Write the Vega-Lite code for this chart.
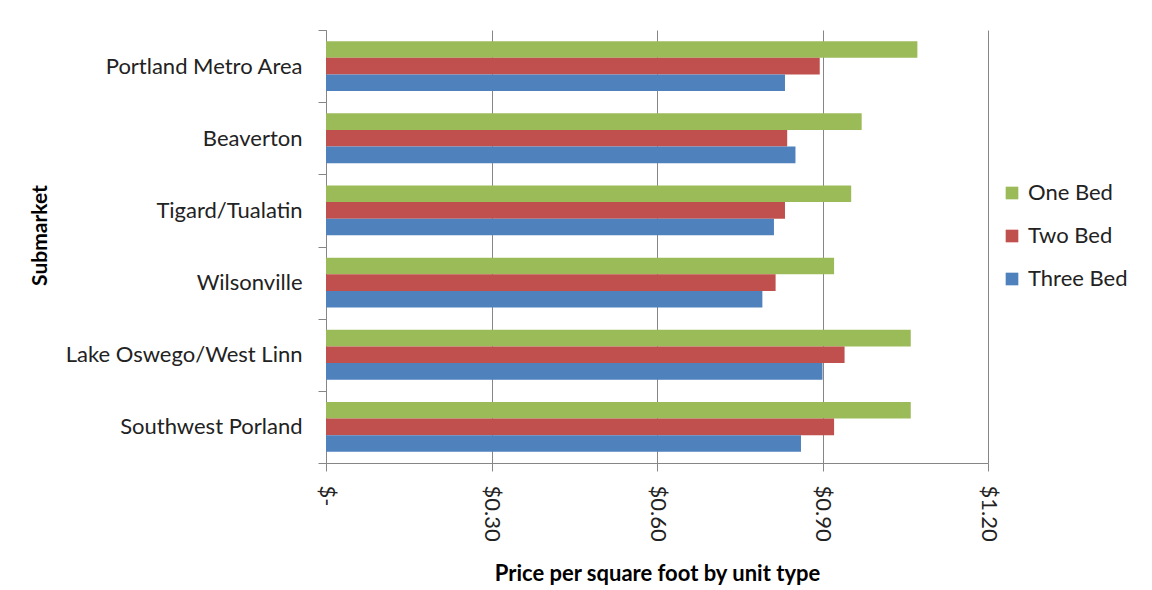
{
  "$schema": "https://vega.github.io/schema/vega-lite/v6.json",
  "width": 662,
  "height": 433,
  "autosize": {"type": "none"},
  "padding": {"left": 326, "top": 30, "right": 164, "bottom": 127},
  "background": "white",
  "config": {
    "font": "Lato",
    "view": {"stroke": null}
  },
  "data": {
    "values": [
      {"submarket": "Portland Metro Area", "type": "One Bed", "price": 1.072},
      {"submarket": "Portland Metro Area", "type": "Two Bed", "price": 0.895},
      {"submarket": "Portland Metro Area", "type": "Three Bed", "price": 0.832},
      {"submarket": "Beaverton", "type": "One Bed", "price": 0.971},
      {"submarket": "Beaverton", "type": "Two Bed", "price": 0.836},
      {"submarket": "Beaverton", "type": "Three Bed", "price": 0.851},
      {"submarket": "Tigard/Tualatin", "type": "One Bed", "price": 0.952},
      {"submarket": "Tigard/Tualatin", "type": "Two Bed", "price": 0.832},
      {"submarket": "Tigard/Tualatin", "type": "Three Bed", "price": 0.812},
      {"submarket": "Wilsonville", "type": "One Bed", "price": 0.921},
      {"submarket": "Wilsonville", "type": "Two Bed", "price": 0.815},
      {"submarket": "Wilsonville", "type": "Three Bed", "price": 0.791},
      {"submarket": "Lake Oswego/West Linn", "type": "One Bed", "price": 1.060},
      {"submarket": "Lake Oswego/West Linn", "type": "Two Bed", "price": 0.940},
      {"submarket": "Lake Oswego/West Linn", "type": "Three Bed", "price": 0.900},
      {"submarket": "Southwest Porland", "type": "One Bed", "price": 1.060},
      {"submarket": "Southwest Porland", "type": "Two Bed", "price": 0.921},
      {"submarket": "Southwest Porland", "type": "Three Bed", "price": 0.861}
    ]
  },
  "mark": {"type": "bar"},
  "encoding": {
    "y": {
      "field": "submarket",
      "type": "nominal",
      "sort": ["Portland Metro Area", "Beaverton", "Tigard/Tualatin", "Wilsonville", "Lake Oswego/West Linn", "Southwest Porland"],
      "scale": {"paddingInner": 0, "paddingOuter": 0},
      "axis": {
        "title": "Submarket",
        "titleFontSize": 21,
        "titleFontWeight": "bold",
        "titleColor": "black",
        "titleX": -286,
        "titleY": 205,
        "titleAngle": -90,
        "titleBaseline": "middle",
        "titleAlign": "center",
        "labelFontSize": 22,
        "labelLimit": 0,
        "labelColor": "#222222",
        "labelPadding": 16,
        "tickBand": "extent",
        "tickSize": 8,
        "tickColor": "#868686",
        "domainColor": "#868686",
        "grid": false
      }
    },
    "yOffset": {
      "field": "type",
      "type": "nominal",
      "sort": ["One Bed", "Two Bed", "Three Bed"],
      "scale": {"paddingInner": 0, "paddingOuter": 0.67}
    },
    "x": {
      "field": "price",
      "type": "quantitative",
      "scale": {"domain": [0, 1.2], "nice": false, "zero": true},
      "axis": {
        "title": "Price per square foot by unit type",
        "titleFontSize": 22,
        "titleFontWeight": "bold",
        "titleColor": "black",
        "titlePadding": 22,
        "values": [0, 0.3, 0.6, 0.9, 1.2],
        "labelExpr": "datum.value == 0 ? '$-' : '$' + format(datum.value, '.2f')",
        "labelAngle": 90,
        "labelAlign": "left",
        "labelBaseline": "middle",
        "labelFontSize": 22,
        "labelColor": "#222222",
        "labelPadding": 14,
        "tickSize": 8,
        "tickColor": "#868686",
        "domainColor": "#868686",
        "grid": true,
        "gridColor": "#868686",
        "gridOpacity": 1
      }
    },
    "color": {
      "field": "type",
      "type": "nominal",
      "scale": {"domain": ["One Bed", "Two Bed", "Three Bed"], "range": ["#9BBB59", "#C0504D", "#4F81BD"]},
      "legend": {
        "title": null,
        "orient": "none",
        "legendX": 675,
        "legendY": 152,
        "symbolType": "square",
        "symbolSize": 160,
        "symbolStrokeWidth": 0,
        "labelFontSize": 22,
        "labelColor": "#222222",
        "rowPadding": 21,
        "labelOffset": 5
      }
    }
  }
}
